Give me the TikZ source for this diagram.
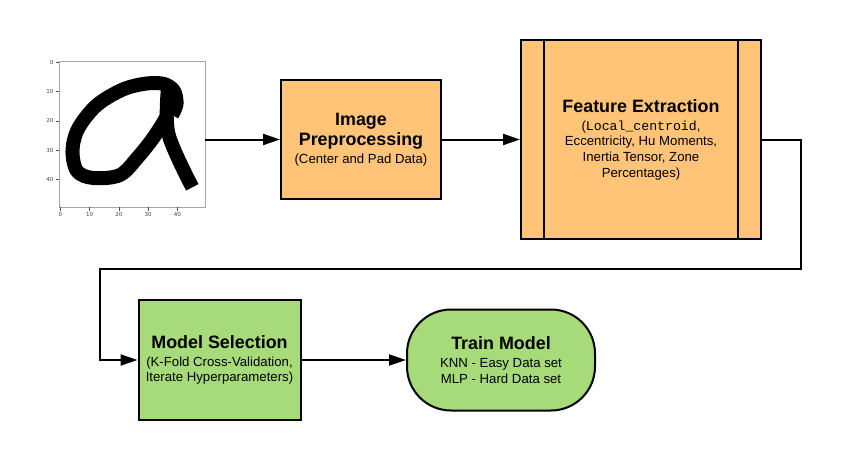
\documentclass[tikz,border=0pt]{standalone}
\usepackage{fontspec}
\setmainfont{Liberation Sans}
\setmonofont{Liberation Mono}
\newfontfamily\plotfont{DejaVu Sans}
\usetikzlibrary{arrows.meta}
\definecolor{boxorange}{HTML}{FFC477}
\definecolor{boxgreen}{HTML}{A7DA79}
\newcommand{\boxtitle}[1]{{\fontsize{17.9}{20.5}\selectfont\bfseries #1}}
\begin{document}
\begin{tikzpicture}[x=1pt,y=-1pt,>={Triangle[length=17pt,width=11pt]},line join=miter,
  procbox/.style={draw=black,line width=2pt,inner sep=0pt,align=center,font=\fontsize{13.2}{20.5}\selectfont},
  procline/.style={black,line width=2pt},
  flow/.style={black,line width=2pt},
  digit/.style={black,line width=14pt,line join=round},
  plotframe/.style={draw=black!35,line width=0.8pt,inner sep=0pt,minimum width=146pt,minimum height=146pt},
  tick/.style={black!70,line width=0.6pt},
  ticklabel/.style={inner sep=0pt,text=black!75,font=\plotfont\fontsize{5.5}{6}\selectfont},
]
%%
  \useasboundingbox (0,0) rectangle (842,460);
  % handwritten digit
  \begin{scope}
    \clip (59,61) rectangle (205,207);
    \draw [digit] plot [smooth,tension=0.55] coordinates {(168,114) (161.7,125) (151.7,140) (138.3,156.7) (120,175) (93.3,178) (77,171) (72.5,150) (78.5,128) (97,105) (123.3,89.3) (146.7,83.5) (164,84) (174,91) (176.5,104) (172,115)};
    \draw [digit] plot [smooth,tension=0.55] coordinates {(168,88) (168.5,134) (192.3,187.3)};
  \end{scope}
  \node (node_0) at (132,134) [plotframe] {};
  \foreach \v in {0,10,20,30,40} {
    \draw [tick] (55.5,{61+2.92*(\v+0.5)}) -- (59,{61+2.92*(\v+0.5)});
    \node (ylabel_\v) at (53.5,{61+2.92*(\v+0.5)}) [ticklabel,anchor=east] {\v};
    \draw [tick] ({59+2.92*(\v+0.5)},207) -- ({59+2.92*(\v+0.5)},210.5);
    \node (xlabel_\v) at ({59+2.92*(\v+0.5)},212.5) [ticklabel,anchor=north] {\v};
  }

  \node (node_1) at (361,139.5) [procbox,fill=boxorange,minimum width=160pt,minimum height=119pt] {\boxtitle{Image}\\\boxtitle{Preprocessing}\\[-2.6pt](Center and Pad Data)};
  \node (node_2) at (641,139.5) [procbox,fill=boxorange,minimum width=240pt,minimum height=199pt] {\boxtitle{Feature Extraction}\\[-2.6pt](\texttt{Local\_centroid},\\[-4.8pt]Eccentricity, Hu Moments,\\[-4.8pt]Inertia Tensor, Zone\\[-4.8pt]Percentages)};
  \draw [procline] ([xshift=24pt]node_2.north west) -- ([xshift=24pt]node_2.south west);
  \draw [procline] ([xshift=-24pt]node_2.north east) -- ([xshift=-24pt]node_2.south east);
  \node (node_3) at (219.5,360) [procbox,fill=boxgreen,minimum width=162pt,minimum height=120pt] {\boxtitle{Model Selection}\\[-2.6pt](K-Fold Cross-Validation,\\[-4.8pt]Iterate Hyperparameters)};
  \node (node_4) at (501,360) [procbox,fill=boxgreen,rounded corners=44pt,minimum width=188pt,minimum height=101pt] {\boxtitle{Train Model}\\[-2.6pt]KNN - Easy Data set\\[-4.8pt]MLP - Hard Data set};

  \coordinate (bend_0) at (801,269);
  \coordinate (bend_1) at (100,269);
  \draw [flow,->] (node_0.east |- node_1.west) -- (node_1.west);
  \draw [flow,->] (node_1) edge (node_2);
  \draw [flow,->] (node_2.east) -| (bend_0) -- (bend_1) |- (node_3.west);
  \draw [flow,->] (node_3) edge (node_4);
%
\end{tikzpicture}
\end{document}
